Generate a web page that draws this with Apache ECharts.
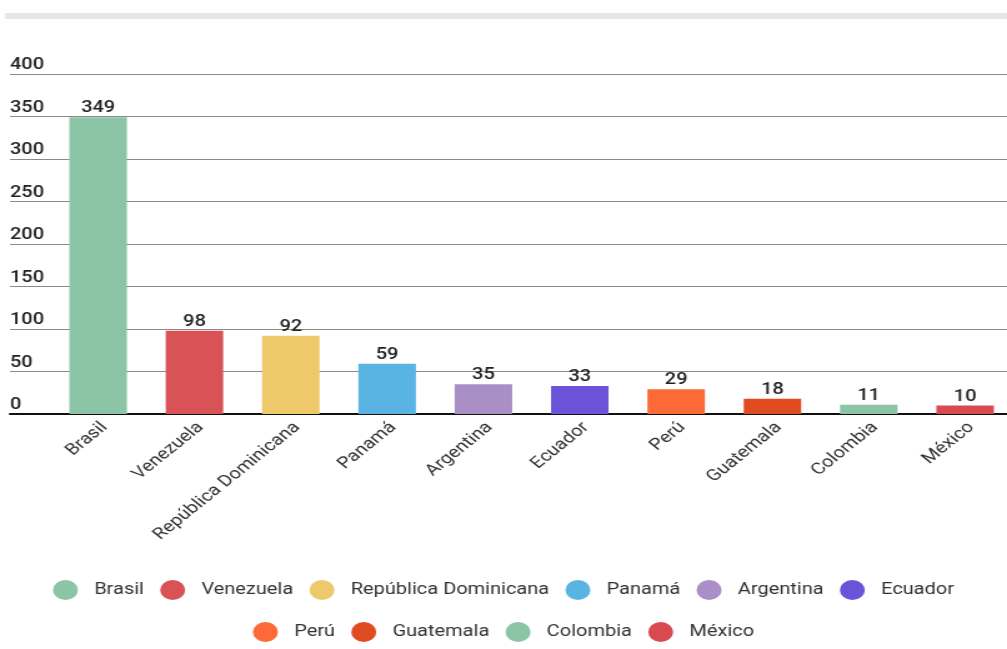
<!DOCTYPE html>
<html>
<head>
<meta charset="utf-8">
<script src="https://cdn.jsdelivr.net/npm/echarts@6/dist/echarts.min.js"></script>
<style>
html,body{margin:0;padding:0;background:#fff;overflow:hidden}
#c{width:806px;height:649px;transform:scaleX(1.2494);transform-origin:0 0}
</style>
</head>
<body>
<div id="c"></div>
<script>
const categories = ['Brasil','Venezuela','República Dominicana','Panamá','Argentina','Ecuador','Perú','Guatemala','Colombia','México'];
const values = [349, 98, 92, 59, 35, 33, 29, 18, 11, 10];
const colors = ['#8cc4a6','#d95256','#eec96b','#5ab4e3','#a98fc6','#6a52d9','#fd6a37','#e04b22','#8cc4a6','#d94a50'];
const yMin = 0, yMax = 400, yStep = 50;
const legendRow1 = categories.slice(0, 6);
const legendRow2 = categories.slice(6);

const FONT = 'Roboto';
const chart = echarts.init(document.getElementById('c'), null, {renderer: 'canvas'});

const series = categories.map((name, i) => ({
  name: name,
  type: 'bar',
  xAxisIndex: 0,
  yAxisIndex: 0,
  barWidth: 46,
  barGap: '-100%',
  data: values.map((v, j) => (j === i ? v : '-')),
  itemStyle: {color: colors[i]},
  label: {show: true, position: 'top', distance: 1, color: '#222', fontSize: 16, fontFamily: FONT, fontWeight: 500}
}));

chart.setOption({
  animation: false,
  backgroundColor: '#fff',
  graphic: [{type: 'rect', shape: {x: 4, y: 13, width: 802, height: 6}, style: {fill: '#e6e6e6'}, silent: true}],
  grid: [
    {left: 40, width: 771, top: 74, bottom: 235, outerBoundsMode: 'none', containLabel: false},
    {left: 8, right: 0, top: 74, bottom: 235, outerBoundsMode: 'none', containLabel: false},
    {left: 45, width: 771, top: 74, bottom: 235, outerBoundsMode: 'none', containLabel: false}
  ],
  xAxis: [
    {type: 'category', gridIndex: 0, data: categories, show: false},
    {type: 'value', gridIndex: 1, min: 0, max: 1, axisLine: {show: true, lineStyle: {color: '#111', width: 2}},
     axisTick: {show: false}, axisLabel: {show: false}, splitLine: {show: false}},
    {type: 'category', gridIndex: 2, data: categories,
     axisLine: {show: false}, axisTick: {show: false}, splitLine: {show: false},
     axisLabel: {rotate: 45, interval: 0, margin: 11, color: '#333', fontSize: 16, fontFamily: FONT}}
  ],
  yAxis: [
    {type: 'value', gridIndex: 0, min: yMin, max: yMax, interval: yStep, show: false, splitLine: {show: false}},
    {type: 'value', gridIndex: 1, min: yMin, max: yMax, interval: yStep,
     axisLine: {show: false}, axisTick: {show: false},
     splitLine: {show: true, lineStyle: {color: '#8a8a8a', width: 1}},
     axisLabel: {inside: true, margin: 0, align: 'left', verticalAlign: 'bottom', padding: [0, 0, 1, 0],
       color: '#222', fontSize: 16, fontFamily: FONT, fontWeight: 500}},
    {type: 'value', gridIndex: 2, min: yMin, max: yMax, interval: yStep, show: false, splitLine: {show: false}}
  ],
  legend: [
    {data: legendRow1, top: 575, left: 'center', icon: 'circle', itemWidth: 20, itemHeight: 20, itemGap: 13,
     textStyle: {color: '#333', fontSize: 16, fontFamily: FONT, padding: [0, 0, 0, 8]}},
    {data: legendRow2, top: 617, left: 'center', icon: 'circle', itemWidth: 20, itemHeight: 20, itemGap: 13,
     textStyle: {color: '#333', fontSize: 16, fontFamily: FONT, padding: [0, 0, 0, 8]}}
  ],
  series: series
});
</script>
</body>
</html>
